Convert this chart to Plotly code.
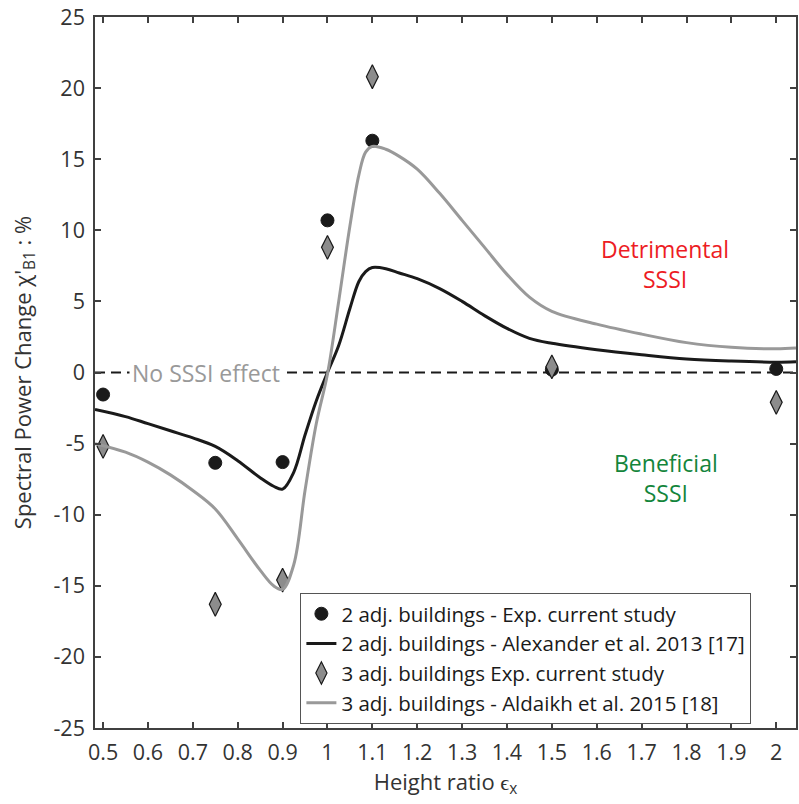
import plotly.graph_objects as go

# Experimental points
x_exp = [0.5, 0.75, 0.9, 1.0, 1.1, 1.5, 2.0]
y_exp_2adj = [-1.55, -6.35, -6.3, 10.7, 16.3, 0.2, 0.25]
y_exp_3adj = [-5.2, -16.3, -14.6, 8.8, 20.8, 0.4, -2.1]

# Analytical curves
x_curve = [0.482, 0.55, 0.6, 0.65, 0.7, 0.75, 0.8, 0.85, 0.88, 0.9, 0.925, 0.95,
           0.975, 1.0, 1.025, 1.05, 1.07, 1.085, 1.1, 1.13, 1.16, 1.2, 1.25, 1.3,
           1.35, 1.4, 1.45, 1.5, 1.6, 1.7, 1.8, 1.9, 2.0, 2.044]
y_alexander = [-2.6, -3.1, -3.6, -4.1, -4.6, -5.2, -6.2, -7.4, -8.0, -8.2, -7.0, -4.4,
               -2.0, 0.0, 1.9, 4.5, 6.4, 7.1, 7.38, 7.3, 7.0, 6.6, 5.9, 5.0,
               4.0, 3.1, 2.4, 2.05, 1.6, 1.25, 0.95, 0.8, 0.72, 0.75]
y_aldaikh = [-5.0, -5.6, -6.3, -7.2, -8.3, -9.6, -11.7, -13.9, -15.0, -15.25, -13.5, -8.3,
             -3.6, -0.1, 5.0, 10.3, 13.9, 15.5, 15.9, 15.7, 15.2, 14.3, 12.6, 10.7,
             8.8, 6.9, 5.3, 4.3, 3.4, 2.7, 2.1, 1.77, 1.67, 1.72]

x_range = [0.482, 2.044]
y_range = [-25, 25]
x_ticks = [0.5, 0.6, 0.7, 0.8, 0.9, 1.0, 1.1, 1.2, 1.3, 1.4, 1.5, 1.6, 1.7, 1.8, 1.9, 2.0]
x_ticklabels = ["0.5", "0.6", "0.7", "0.8", "0.9", "1", "1.1", "1.2", "1.3", "1.4",
                "1.5", "1.6", "1.7", "1.8", "1.9", "2"]
y_ticks = [-25, -20, -15, -10, -5, 0, 5, 10, 15, 20, 25]
y_ticklabels = ["-25", "-20", "-15", "-10", "-5", "0", "5", "10", "15", "20", "25"]

FONT = "Open Sans"
AX = "#404040"
TXT = "#333333"

fig = go.Figure()

# zero reference line
fig.add_trace(go.Scatter(x=x_range, y=[0, 0], mode="lines",
                         line=dict(color="#1a1a1a", width=2.2, dash="10px,6px"),
                         showlegend=False, hoverinfo="skip"))

fig.add_trace(go.Scatter(x=x_exp, y=y_exp_2adj, mode="markers",
                         name="2 adj. buildings - Exp. current study",
                         marker=dict(symbol="circle", size=13, color="#1a1a1a",
                                     line=dict(color="#1a1a1a", width=1))))
fig.add_trace(go.Scatter(x=x_curve, y=y_alexander, mode="lines",
                         name="2 adj. buildings - Alexander et al. 2013 [17]",
                         line=dict(color="#1a1a1a", width=3, shape="spline", smoothing=1.0)))
fig.add_trace(go.Scatter(x=x_exp, y=y_exp_3adj, mode="markers",
                         name="3 adj. buildings Exp. current study",
                         marker=dict(symbol="diamond-tall", size=17, color="#8c8c8c",
                                     line=dict(color="#1a1a1a", width=1.2))))
fig.add_trace(go.Scatter(x=x_curve, y=y_aldaikh, mode="lines",
                         name="3 adj. buildings - Aldaikh et al. 2015 [18]",
                         line=dict(color="#999999", width=3, shape="spline", smoothing=1.0)))

axis_common = dict(showline=True, linecolor=AX, linewidth=1.5, mirror="ticks",
                   ticks="inside", ticklen=6, tickwidth=1.5, tickcolor=AX,
                   showgrid=False, zeroline=False, ticklabelstandoff=4,
                   tickfont=dict(family=FONT, size=21.5, color=TXT))

fig.update_layout(
    width=799, height=804, autosize=False,
    margin=dict(l=95, r=1, t=17, b=76),
    paper_bgcolor="white", plot_bgcolor="white",
    font=dict(family=FONT, size=21.5, color=TXT),
    xaxis=dict(range=x_range, tickvals=x_ticks, ticktext=x_ticklabels,
               title=dict(text="Height ratio ϵ<sub>x</sub>", standoff=6,
                          font=dict(family=FONT, size=22, color=TXT)),
               **axis_common),
    yaxis=dict(range=y_range, tickvals=y_ticks, ticktext=y_ticklabels,
               title=dict(text="Spectral Power Change χ'<sub>B1</sub> : %", standoff=16,
                          font=dict(family=FONT, size=22, color=TXT)),
               **axis_common),
    legend=dict(x=0.293, y=0.190, xanchor="left", yanchor="top",
                bgcolor="white", bordercolor="#555555", borderwidth=1,
                font=dict(family=FONT, size=20.5, color="#1a1a1a"),
                tracegroupgap=0),
    showlegend=True,
)

fig.add_annotation(x=0.729, y=0, xref="x", yref="y", text="No SSSI effect",
                   showarrow=False, bgcolor="white", borderpad=2,
                   font=dict(family=FONT, size=23, color="#999999"))
fig.add_annotation(x=1.753, y=7.6, xref="x", yref="y", text="Detrimental<br>SSSI",
                   showarrow=False, font=dict(family=FONT, size=23, color="#ED1C24"))
fig.add_annotation(x=1.755, y=-7.4, xref="x", yref="y", text="Beneficial<br>SSSI",
                   showarrow=False, font=dict(family=FONT, size=23, color="#13853B"))

fig.write_html("out.html")
